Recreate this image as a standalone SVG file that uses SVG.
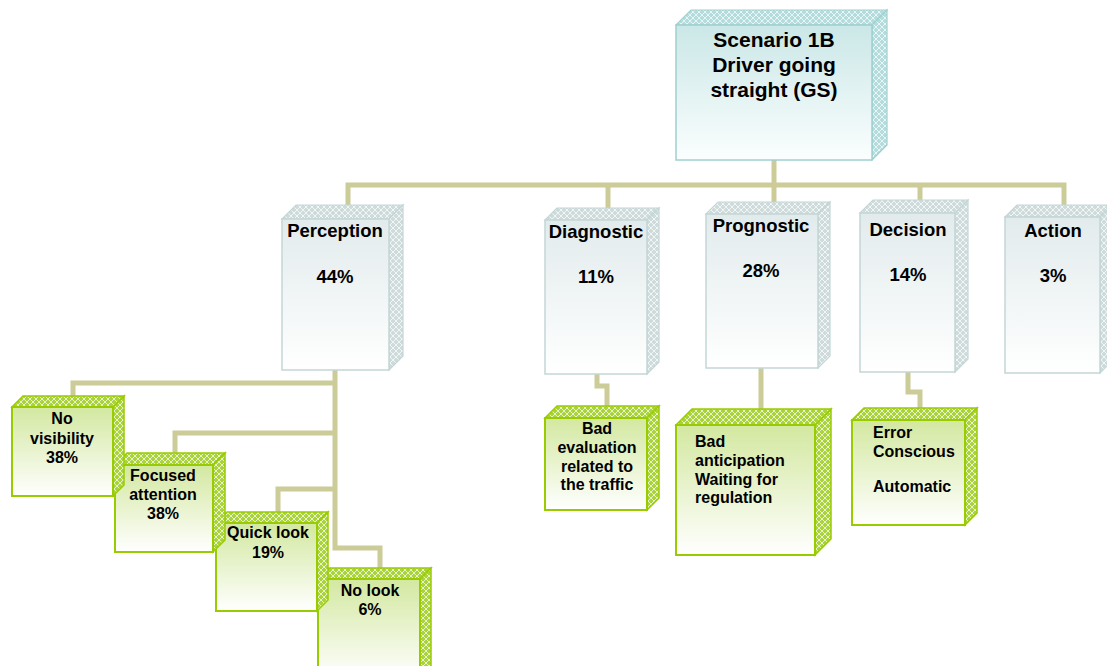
<svg xmlns="http://www.w3.org/2000/svg" width="1107" height="666" viewBox="0 0 1107 666">
  <defs>
    <linearGradient id="gTop" x1="0" y1="0" x2="0" y2="1">
      <stop offset="0" stop-color="#cbe7e7"/>
      <stop offset="1" stop-color="#fbfefe"/>
    </linearGradient>
    <linearGradient id="gGray" x1="0" y1="0" x2="0" y2="1">
      <stop offset="0" stop-color="#e2ebec"/>
      <stop offset="1" stop-color="#ffffff"/>
    </linearGradient>
    <linearGradient id="gGreen" x1="0" y1="0" x2="0" y2="1">
      <stop offset="0" stop-color="#d3e8a0"/>
      <stop offset="1" stop-color="#ffffff"/>
    </linearGradient>
    <!-- lattice textures for the top and side faces -->
    <pattern id="pTeal" width="6" height="6" patternUnits="userSpaceOnUse">
      <rect width="6" height="6" fill="#b4dcdc"/>
      <path d="M0 3 L3 0 L6 3 L3 6 Z" fill="none" stroke="#eef8f8" stroke-width="0.9"/>
    </pattern>
    <pattern id="pGray" width="6" height="6" patternUnits="userSpaceOnUse">
      <rect width="6" height="6" fill="#cfdada"/>
      <path d="M0 3 L3 0 L6 3 L3 6 Z" fill="none" stroke="#f4f8f8" stroke-width="0.9"/>
    </pattern>
    <pattern id="pGreen" width="6" height="6" patternUnits="userSpaceOnUse">
      <rect width="6" height="6" fill="#a9d23c"/>
      <path d="M0 3 L3 0 L6 3 L3 6 Z" fill="none" stroke="#eef7d8" stroke-width="0.9"/>
    </pattern>
  </defs>
  <style>
    .conn { fill: none; stroke: #cccc99; stroke-width: 5; stroke-linejoin: miter; stroke-linecap: butt; }
    .tealFace { fill: url(#pTeal); stroke: #9fd0d0; stroke-width: 1.2; }
    .tealFront { fill: url(#gTop); stroke: #9fd0d0; stroke-width: 1.5; }
    .grayFace { fill: url(#pGray); stroke: #c3d6d6; stroke-width: 1.2; }
    .grayFront { fill: url(#gGray); stroke: #c3d6d6; stroke-width: 1.5; }
    .greenFace { fill: url(#pGreen); stroke: #99cc00; stroke-width: 1.5; }
    .greenFront { fill: url(#gGreen); stroke: #99cc00; stroke-width: 2; }
    text { font-family: "Liberation Sans", Arial, sans-serif; font-weight: bold; fill: #000; }
    .t1 { font-size: 21px; text-anchor: middle; }
    .t2 { font-size: 18.5px; text-anchor: middle; }
    .t3 { font-size: 16px; text-anchor: middle; }
    .t3l { font-size: 16px; text-anchor: start; }
  </style>

  <!-- connectors -->
  <g id="connectors">
    <path class="conn" d="M774 160 V185"/>
    <path class="conn" d="M348 206 V185 H1064 V206"/>
    <path class="conn" d="M608 185 V208"/>
    <path class="conn" d="M774 185 V202"/>
    <path class="conn" d="M920 185 V200"/>
    <path class="conn" d="M335 370 V548 H380 V568"/>
    <path class="conn" d="M73 397 V383 H335"/>
    <path class="conn" d="M175 454 V433 H335"/>
    <path class="conn" d="M278 513 V489 H335"/>
    <path class="conn" d="M597 374 V386 H607 V406"/>
    <path class="conn" d="M761 368 V409"/>
    <path class="conn" d="M908 372 V392 H920 V408"/>
  </g>

  <!-- root -->
  <g id="scenario">
    <polygon class="tealFace" points="676,25 691,10 887,10 872,25"/>
    <polygon class="tealFace" points="872,25 887,10 887,145 872,160"/>
    <rect class="tealFront" x="676" y="25" width="196" height="135"/>
    <text class="t1" x="774" y="47">Scenario 1B</text>
    <text class="t1" x="774" y="72">Driver going</text>
    <text class="t1" x="774" y="97">straight (GS)</text>
  </g>

  <!-- second level -->
  <g id="perception">
    <polygon class="grayFace" points="282,219 296,205 403,205 389,219"/>
    <polygon class="grayFace" points="389,219 403,205 403,356 389,370"/>
    <rect class="grayFront" x="282" y="219" width="107" height="151"/>
    <text class="t2" x="335" y="237">Perception</text>
    <text class="t2" x="335" y="283">44%</text>
  </g>
  <g id="diagnostic">
    <polygon class="grayFace" points="545,220 557,208 659,208 647,220"/>
    <polygon class="grayFace" points="647,220 659,208 659,362 647,374"/>
    <rect class="grayFront" x="545" y="220" width="102" height="154"/>
    <text class="t2" x="596" y="238">Diagnostic</text>
    <text class="t2" x="596" y="283">11%</text>
  </g>
  <g id="prognostic">
    <polygon class="grayFace" points="706,214 718,202 830,202 818,214"/>
    <polygon class="grayFace" points="818,214 830,202 830,356 818,368"/>
    <rect class="grayFront" x="706" y="214" width="112" height="154"/>
    <text class="t2" x="761" y="232">Prognostic</text>
    <text class="t2" x="761" y="277">28%</text>
  </g>
  <g id="decision">
    <polygon class="grayFace" points="860,213 873,200 968,200 955,213"/>
    <polygon class="grayFace" points="955,213 968,200 968,359 955,372"/>
    <rect class="grayFront" x="860" y="213" width="95" height="159"/>
    <text class="t2" x="908" y="236">Decision</text>
    <text class="t2" x="908" y="281">14%</text>
  </g>
  <g id="action">
    <polygon class="grayFace" points="1005,217 1017,205 1112,205 1100,217"/>
    <polygon class="grayFace" points="1100,217 1112,205 1112,361 1100,373"/>
    <rect class="grayFront" x="1005" y="217" width="95" height="156"/>
    <text class="t2" x="1053" y="237">Action</text>
    <text class="t2" x="1053" y="282">3%</text>
  </g>

  <!-- perception breakdown, stacked back to front -->
  <g id="no-look">
    <polygon class="greenFace" points="318,579 329,568 431,568 420,579"/>
    <polygon class="greenFace" points="420,579 431,568 431,668 420,679"/>
    <rect class="greenFront" x="318" y="579" width="102" height="100"/>
    <text class="t3" x="370" y="596">No look</text>
    <text class="t3" x="370" y="615">6%</text>
  </g>
  <g id="quick-look">
    <polygon class="greenFace" points="216,523 227,512 328,512 317,523"/>
    <polygon class="greenFace" points="317,523 328,512 328,600 317,611"/>
    <rect class="greenFront" x="216" y="523" width="101" height="88"/>
    <text class="t3" x="268" y="538">Quick look</text>
    <text class="t3" x="268" y="558">19%</text>
  </g>
  <g id="focused-attention">
    <polygon class="greenFace" points="115,465 127,453 225,453 213,465"/>
    <polygon class="greenFace" points="213,465 225,453 225,540 213,552"/>
    <rect class="greenFront" x="115" y="465" width="98" height="87"/>
    <text class="t3" x="163" y="481">Focused</text>
    <text class="t3" x="163" y="500">attention</text>
    <text class="t3" x="163" y="519">38%</text>
  </g>
  <g id="no-visibility">
    <polygon class="greenFace" points="12,407 23,396 124,396 113,407"/>
    <polygon class="greenFace" points="113,407 124,396 124,485 113,496"/>
    <rect class="greenFront" x="12" y="407" width="101" height="89"/>
    <text class="t3" x="62" y="424">No</text>
    <text class="t3" x="62" y="444">visibility</text>
    <text class="t3" x="62" y="463">38%</text>
  </g>

  <!-- other breakdowns -->
  <g id="bad-evaluation">
    <polygon class="greenFace" points="545,418 557,406 659,406 647,418"/>
    <polygon class="greenFace" points="647,418 659,406 659,498 647,510"/>
    <rect class="greenFront" x="545" y="418" width="102" height="92"/>
    <text class="t3" x="597" y="434">Bad</text>
    <text class="t3" x="597" y="453">evaluation</text>
    <text class="t3" x="597" y="472">related to</text>
    <text class="t3" x="597" y="490">the traffic</text>
  </g>
  <g id="bad-anticipation">
    <polygon class="greenFace" points="676,425 692,409 831,409 815,425"/>
    <polygon class="greenFace" points="815,425 831,409 831,539 815,555"/>
    <rect class="greenFront" x="676" y="425" width="139" height="130"/>
    <text class="t3l" x="695" y="447">Bad</text>
    <text class="t3l" x="695" y="466">anticipation</text>
    <text class="t3l" x="695" y="485">Waiting for</text>
    <text class="t3l" x="695" y="503">regulation</text>
  </g>
  <g id="error">
    <polygon class="greenFace" points="852,420 864,408 977,408 965,420"/>
    <polygon class="greenFace" points="965,420 977,408 977,513 965,525"/>
    <rect class="greenFront" x="852" y="420" width="113" height="105"/>
    <text class="t3l" x="873" y="438">Error</text>
    <text class="t3l" x="873" y="457">Conscious</text>
    <text class="t3l" x="873" y="492">Automatic</text>
  </g>
</svg>
